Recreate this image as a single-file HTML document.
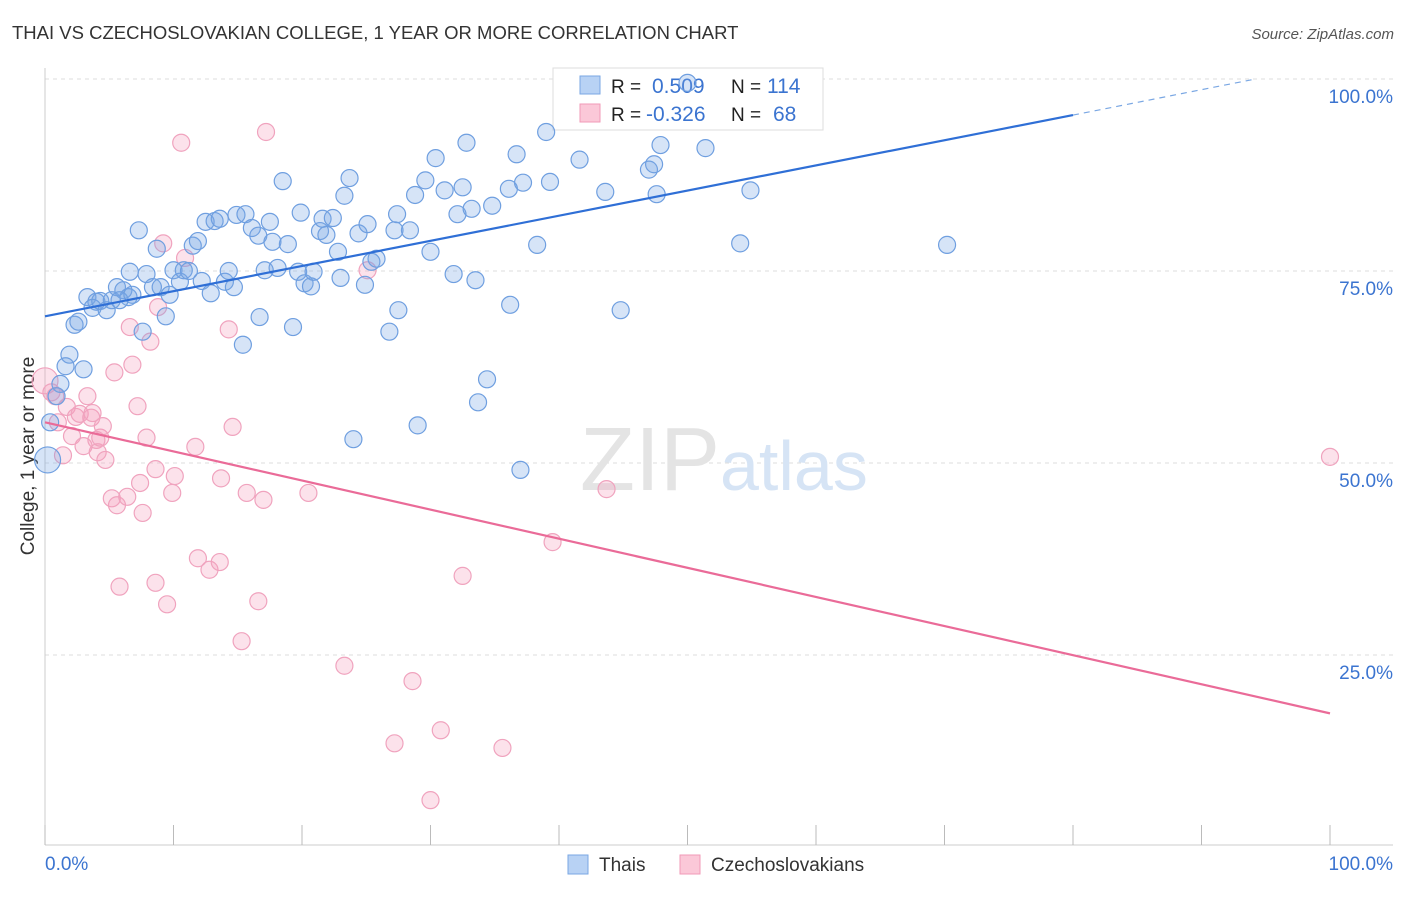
<!DOCTYPE html>
<html><head><meta charset="utf-8"><style>
body{margin:0;background:#fff;font-family:"Liberation Sans",sans-serif}
svg text{font-family:"Liberation Sans",sans-serif}
</style></head><body>
<svg id="chart" width="1406" height="892">
<text x="12" y="39" font-size="18.5" fill="#333">THAI VS CZECHOSLOVAKIAN COLLEGE, 1 YEAR OR MORE CORRELATION CHART</text>
<text x="1394" y="39" font-size="15" fill="#555" text-anchor="end" font-style="italic">Source: ZipAtlas.com</text>
<text x="34" y="456" font-size="19" fill="#333" text-anchor="middle" transform="rotate(-90 34 456)">College, 1 year or more</text>
<g id="grid"></g>
<text x="720" y="490" font-size="90" fill="#e4e4e4" text-anchor="end" font-family="Liberation Serif">ZIP</text>
<text x="720" y="490" font-size="70" fill="#d6e4f5">atlas</text>
<g>
<rect x="553" y="68" width="270" height="62" fill="#fff" stroke="#ddd"/>
<rect x="580" y="76" width="20" height="18" fill="#b8d2f4" stroke="#7aa7e3"/>
<rect x="580" y="104" width="20" height="18" fill="#fbc8d8" stroke="#f09ab7"/>
<text x="611" y="93" font-size="19" fill="#222">R =</text>
<text x="652" y="93" font-size="21" fill="#3b74d0">0.509</text>
<text x="731" y="93" font-size="19" fill="#222">N =</text>
<text x="767" y="93" font-size="21" fill="#3b74d0">114</text>
<text x="611" y="121" font-size="19" fill="#222">R =</text>
<text x="646" y="121" font-size="21" fill="#3b74d0">-0.326</text>
<text x="731" y="121" font-size="19" fill="#222">N =</text>
<text x="773" y="121" font-size="21" fill="#3b74d0">68</text>
</g>
<g id="pts"></g>
<g id="lines"></g>
<g>
<rect x="568" y="855" width="20" height="19" fill="#b8d2f4" stroke="#7aa7e3"/>
<text x="599" y="871" font-size="19" fill="#333">Thais</text>
<rect x="680" y="855" width="20" height="19" fill="#fbc8d8" stroke="#f09ab7"/>
<text x="711" y="871" font-size="19" fill="#333">Czechoslovakians</text>
</g>
</svg>
<script>
const blueX=[0.2,0.4,1.2,0.9,1.9,1.6,3.0,2.3,2.6,3.3,4.0,3.7,4.3,4.8,5.2,5.6,6.1,6.5,5.8,6.8,7.3,7.6,6.6,7.9,8.4,8.7,9.0,9.7,9.4,10.0,10.5,10.8,11.2,11.5,11.9,12.2,12.5,12.9,13.2,13.6,14.0,14.3,14.7,14.9,15.6,15.4,16.1,16.6,16.7,17.1,17.5,17.7,18.1,18.5,18.9,19.3,19.7,19.9,20.2,20.7,20.9,21.4,21.6,21.9,22.4,22.8,23.0,23.3,23.7,24.0,24.4,24.9,25.1,25.4,25.8,26.8,27.2,27.4,27.5,28.4,28.8,29.0,29.6,30.0,30.4,31.1,31.8,32.1,32.5,32.8,33.2,33.5,33.7,34.4,34.8,36.1,36.2,36.7,37.0,37.2,38.3,39.0,39.3,41.6,43.6,44.8,47.0,47.4,47.6,47.9,51.4,50.0,54.1,54.9,70.2];
const blueY=[50.4,55.3,60.3,58.7,64.1,62.6,62.2,68.0,68.4,71.6,71.0,70.2,71.1,69.9,71.2,72.9,72.5,71.6,71.2,71.9,80.3,67.1,74.9,74.6,72.9,77.9,72.9,71.9,69.1,75.1,73.6,75.1,75.0,78.3,78.9,73.7,81.4,72.1,81.5,81.8,73.6,75.0,72.9,82.3,82.4,65.4,80.6,79.6,69.0,75.1,81.4,78.8,75.4,86.7,78.5,67.7,74.9,82.6,73.4,73.0,74.9,80.2,81.8,79.7,81.9,77.5,74.1,84.8,87.1,53.1,79.9,73.2,81.1,76.2,76.6,67.1,80.3,82.4,69.9,80.3,84.9,54.9,86.8,77.5,89.7,85.5,74.6,82.4,85.9,91.7,83.1,73.8,57.9,60.9,83.5,85.7,70.6,90.2,49.1,86.5,78.4,93.1,86.6,89.5,85.3,69.9,88.2,88.9,85.0,91.4,91.0,99.5,78.6,85.5,78.4];
const pinkX=[0.0,0.5,0.8,1.0,1.4,1.7,2.1,2.4,2.7,3.0,3.3,3.6,3.7,4.0,4.1,4.3,4.5,4.7,5.2,5.4,5.6,5.8,6.4,6.6,6.8,7.2,7.4,7.6,7.9,8.2,8.6,8.6,8.8,9.2,9.5,9.9,10.1,10.6,10.9,11.7,11.9,12.8,13.6,13.7,14.3,14.6,15.3,15.7,16.6,17.0,17.2,20.5,23.3,25.1,27.2,28.6,30.0,30.8,32.5,35.6,39.5,43.7,100];
const pinkY=[60.7,59.2,58.7,55.3,51.0,57.3,53.5,56.0,56.4,52.2,58.7,55.9,56.5,53.0,51.4,53.3,54.8,50.4,45.4,61.8,44.5,33.9,45.6,67.7,62.8,57.4,47.4,43.5,53.3,65.8,49.2,34.4,70.3,78.6,31.6,46.1,48.3,91.7,76.7,52.1,37.6,36.1,37.1,48.0,67.4,54.7,26.8,46.1,32.0,45.2,93.1,46.1,23.6,75.1,13.5,21.6,6.1,15.2,35.3,12.9,39.7,46.6,50.8];
const blueTrend=[69.1,95.3,100]; const blueTrendX=[0,80,94.2];
const pinkTrend=[55.3,17.4];
const yTicks=[100,75,50,25]; const yTickLabels=["100.0%","75.0%","50.0%","25.0%"];
const NS="http://www.w3.org/2000/svg";
const X=v=>45+v*12.85, Y=v=>847-v*7.68;
function mk(tag,attrs,parent){const e=document.createElementNS(NS,tag);for(const k in attrs)e.setAttribute(k,attrs[k]);parent.appendChild(e);return e;}
const grid=document.getElementById('grid');
yTicks.forEach((t,i)=>{
  const l=mk('line',{x1:45,x2:1393,y1:Y(t),y2:Y(t),stroke:'#ddd','stroke-dasharray':'4 4'},grid);
  
  
  const tx=mk('text',{x:1393,y:Y(t)+24,'font-size':19,fill:'#3b74d0','text-anchor':'end'},grid);
  tx.textContent=yTickLabels[i];
  
  
});
mk('line',{x1:45,x2:45,y1:68,y2:845,stroke:'#ccc'},grid);
mk('line',{x1:45,x2:1393,y1:845,y2:845,stroke:'#ccc'},grid);
for(let i=0;i<=10;i++){const t=mk('line',{x1:X(i*10),x2:X(i*10),y1:825,y2:845,stroke:'#bbb'},grid);
  
  }
const xl0=mk('text',{x:45,y:870,'font-size':19,fill:'#3b74d0'},grid);xl0.textContent='0.0%';


const xl1=mk('text',{x:1393,y:870,'font-size':19,fill:'#3b74d0','text-anchor':'end'},grid);xl1.textContent='100.0%';


const pts=document.getElementById('pts');
pinkX.forEach((x,i)=>{const c=mk('circle',{cx:X(x),cy:Y(pinkY[i]),r:i==0?13:8.5,fill:'rgba(244,160,190,0.3)',stroke:'#f0a3be','stroke-width':1.2},pts);
  
  });
blueX.forEach((x,i)=>{const c=mk('circle',{cx:X(x),cy:Y(blueY[i]),r:i==0?13:8.5,fill:'rgba(120,165,230,0.3)',stroke:'#6f9fe0','stroke-width':1.2},pts);
  
  });
const lines=document.getElementById('lines');
const b1=mk('line',{x1:X(blueTrendX[0]),y1:Y(blueTrend[0]),x2:X(blueTrendX[1]),y2:Y(blueTrend[1]),stroke:'#2f6fd6','stroke-width':2.2},lines);


const b2=mk('line',{x1:X(blueTrendX[1]),y1:Y(blueTrend[1]),x2:X(blueTrendX[2]),y2:Y(blueTrend[2]),stroke:'#7aa7e3','stroke-width':1.2,'stroke-dasharray':'6 5'},lines);


const p1=mk('line',{x1:X(0),y1:Y(pinkTrend[0]),x2:X(100),y2:Y(pinkTrend[1]),stroke:'#ea6b98','stroke-width':2.2},lines);


</script>
</body></html>
